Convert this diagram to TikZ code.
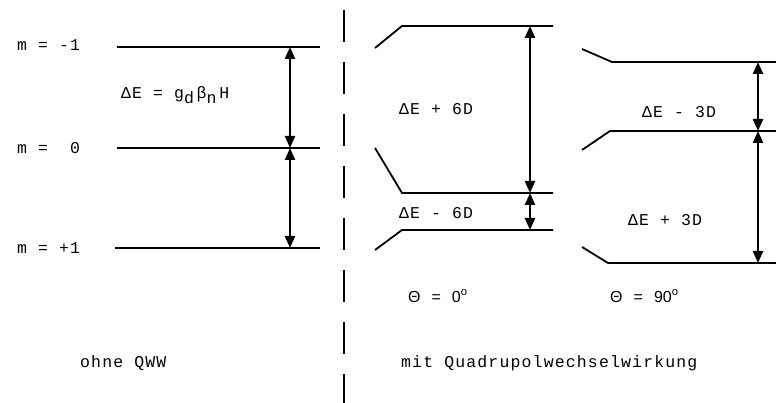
\documentclass[tikz,border=0pt]{standalone}
\usepackage{fontspec}
\setmainfont{Liberation Mono}[LetterSpace=7]
\newfontfamily\sansf{Liberation Sans}
\usetikzlibrary{arrows.meta}
\newcommand{\lowidx}[1]{\raisebox{-5pt}{#1}}
\begin{document}
\begin{tikzpicture}[x=1pt,y=-1pt,
  level/.style={line width=1.8pt},
  dbl/.style={line width=2.3pt,{Triangle[length=12pt,width=10pt]}-{Triangle[length=12pt,width=10pt]}},
  lbl/.style={font=\fontsize{16.5}{16.5}\selectfont, inner sep=0pt, anchor=west},
  thl/.style={font=\sansf\fontsize{16}{16}\selectfont, inner sep=0pt, anchor=west},
  sep/.style={line width=2.5pt, dash pattern=on 32pt off 20pt}]
\useasboundingbox (0,0) rectangle (776,403);
% separator
\coordinate (dtop) at (344,10);
\coordinate (dbot) at (344,403);
\draw[sep] (dtop) -- (dbot);
% left: ohne QWW
\coordinate (L1a) at (117,47); \coordinate (L1b) at (320,47);
\coordinate (L2a) at (117,148); \coordinate (L2b) at (320,148);
\coordinate (L3a) at (115,248); \coordinate (L3b) at (320,248);
\draw[level] (L1a) -- (L1b);
\draw[level] (L2a) -- (L2b);
\draw[level] (L3a) -- (L3b);
\coordinate (A1) at (290,47); \coordinate (A2) at (290,148); \coordinate (A3) at (290,248);
\draw[dbl] (A1) -- (A2);
\draw[dbl] (A2) -- (A3);
\node[lbl] (m1) at (17,45) {m = -1};
\node[lbl] (m0) at (17,148) {m =\ \ 0};
\node[lbl] (mp) at (17,248) {m = +1};
\node[lbl] (dE) at (121,95) {ΔE =\ g\lowidx{d}\,β\lowidx{n}\,H};
% middle: Theta = 0
\coordinate (M1s) at (375,48); \coordinate (M1a) at (402,26); \coordinate (M1b) at (553,26);
\coordinate (M2s) at (375,148); \coordinate (M2a) at (402,193); \coordinate (M2b) at (553,193);
\coordinate (M3s) at (375,250); \coordinate (M3a) at (402,230); \coordinate (M3b) at (553,230);
\draw[level] (M1s) -- (M1a) -- (M1b);
\draw[level] (M2s) -- (M2a) -- (M2b);
\draw[level] (M3s) -- (M3a) -- (M3b);
\coordinate (B1) at (530,26); \coordinate (B2) at (530,193); \coordinate (B3) at (530,230);
\draw[dbl] (B1) -- (B2);
\draw[dbl] (B2) -- (B3);
\node[lbl] (p6) at (399,109) {ΔE + 6D};
\node[lbl] (m6) at (399,213) {ΔE - 6D};
% right: Theta = 90
\coordinate (R1s) at (582,49); \coordinate (R1a) at (612,62); \coordinate (R1b) at (776,62);
\coordinate (R2s) at (582,150); \coordinate (R2a) at (610,131); \coordinate (R2b) at (776,131);
\coordinate (R3s) at (582,247); \coordinate (R3a) at (608,263); \coordinate (R3b) at (776,263);
\draw[level] (R1s) -- (R1a) -- (R1b);
\draw[level] (R2s) -- (R2a) -- (R2b);
\draw[level] (R3s) -- (R3a) -- (R3b);
\coordinate (C1) at (758,62); \coordinate (C2) at (758,131); \coordinate (C3) at (758,263);
\draw[dbl] (C1) -- (C2);
\draw[dbl] (C2) -- (C3);
\node[lbl] (m3) at (642,112) {ΔE - 3D};
\node[lbl] (p3) at (628,220) {ΔE + 3D};
% angle labels
\node[thl] (t0) at (408,296) {Θ\hspace{11pt}=\hspace{11pt}0\textsuperscript{o}};
\node[thl] (t90) at (610,296) {Θ\hspace{11pt}=\hspace{11pt}90\textsuperscript{o}};
% captions
\node[lbl] (ohne) at (80,363) {ohne QWW};
\node[lbl] (mit) at (401,363) {mit Quadrupolwechselwirkung};
\end{tikzpicture}
\end{document}
